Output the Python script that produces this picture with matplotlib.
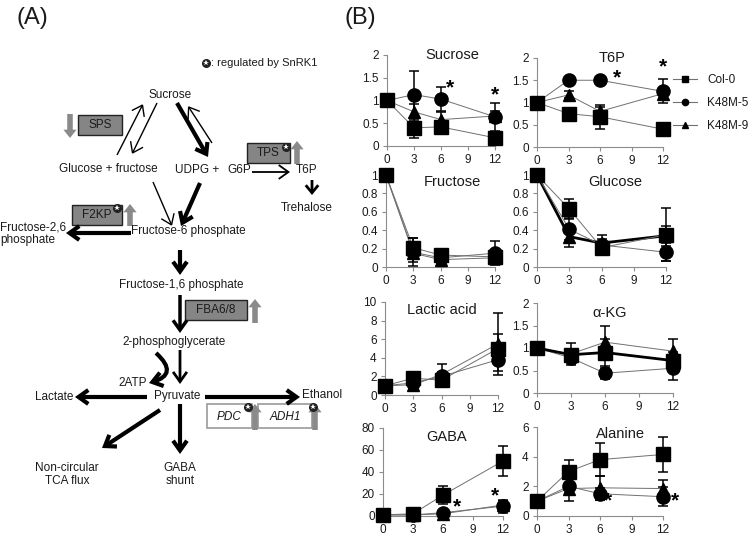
import numpy as np
import matplotlib.pyplot as plt
from matplotlib.patches import Rectangle, FancyArrowPatch
from matplotlib.lines import Line2D
from matplotlib.ticker import FuncFormatter

plt.rcParams['font.family'] = ['Liberation Sans', 'DejaVu Sans']

W, H = 755, 538

# ---- data (relative to 0 h), rows: Col-0, K48M-5, K48M-9 ----
hours = [0, 3, 6, 12]
genotypes = ['Col-0', 'K48M-5', 'K48M-9']

sucrose_mean = [[1, 0.40, 0.42, 0.18], [1, 1.13, 1.03, 0.64], [1, 0.75, 0.58, 0.66]]
sucrose_err = [[0, 0.22, 0.12, 0.05], [0, 0.52, 0.26, 0.30], [0, 0.18, 0.17, 0.12]]

t6p_mean = [[1, 0.75, 0.68, 0.40], [1, 1.50, 1.50, 1.25], [1, 1.17, 0.80, 1.20]]
t6p_err = [[0, 0.05, 0.27, 0.04], [0, 0.05, 0.05, 0.27], [0, 0.08, 0.10, 0.10]]

fructose_mean = [[1, 0.21, 0.13, 0.11], [1, 0.16, 0.10, 0.15], [1, 0.15, 0.08, 0.10]]
fructose_err = [[0, 0.11, 0.07, 0.05], [0, 0.15, 0.06, 0.13], [0, 0.10, 0.05, 0.05]]

glucose_mean = [[1, 0.63, 0.21, 0.35], [1, 0.41, 0.24, 0.16], [1, 0.33, 0.26, 0.34]]
glucose_err = [[0, 0.11, 0.05, 0.29], [0, 0.12, 0.06, 0.10], [0, 0.11, 0.09, 0.11]]

lactic_mean = [[1, 1.8, 1.6, 5.0], [1, 1.3, 2.0, 3.8], [1, 1.1, 2.2, 5.5]]
lactic_err = [[0, 0.4, 0.6, 1.6], [0, 0.3, 0.5, 1.2], [0, 0.3, 1.1, 3.3]]

akg_mean = [[1, 0.85, 0.90, 0.72], [1, 0.78, 0.44, 0.55], [1, 0.87, 1.13, 0.93]]
akg_err = [[0, 0.12, 0.30, 0.20], [0, 0.10, 0.12, 0.25], [0, 0.25, 0.35, 0.28]]

gaba_mean = [[1, 2, 19, 50], [1, 1, 3, 9], [1, 1, 2, 10]]
gaba_err = [[0, 1, 8, 14], [0, 0.5, 2, 6], [0, 0.5, 1, 4]]

alanine_mean = [[1, 3.0, 3.8, 4.15], [1, 2.0, 1.5, 1.3], [1, 1.85, 1.9, 1.85]]
alanine_err = [[0, 0.8, 1.1, 1.15], [0, 1.0, 0.4, 0.65], [0, 0.3, 0.8, 0.6]]

# significance marks (x, y)
sucrose_stars = [(7.0, 1.27), (12, 1.13)]
t6p_stars = [(7.6, 1.55), (12, 1.8)]
gaba_stars = [(7.4, 8.5), (11.2, 18.7)]
alanine_stars = [(6.8, 1.0), (13.1, 1.0)]

fig = plt.figure(figsize=(W / 100, H / 100), dpi=100)

# ---------------- panel A: pathway diagram (pixel coordinates) ----------------
ax0 = fig.add_axes([0, 0, 1, 1])
ax0.set_xlim(0, W)
ax0.set_ylim(H, 0)
ax0.axis('off')

TXT = '#1a1a1a'
GRAY = '#8a8a8a'


def label(x, y, s, size=8.5, ha='center', **kw):
    ax0.text(x, y, s, ha=ha, va='center', fontsize=size, color=TXT, **kw)


def arrow(x0, y0, x1, y1, lw=1.0, hl=0.7, hw=0.5, cs=None):
    a = FancyArrowPatch((x0, y0), (x1, y1),
                        arrowstyle=f'->,head_length={hl},head_width={hw}',
                        lw=lw, color='black', mutation_scale=10,
                        shrinkA=0, shrinkB=0, connectionstyle=cs,
                        joinstyle='miter', capstyle='butt')
    ax0.add_patch(a)


def gray_arrow(x, y0, y1):
    a = FancyArrowPatch((x, y0), (x, y1),
                        arrowstyle='simple,head_length=0.6,head_width=0.95,tail_width=0.4',
                        color=GRAY, lw=0, mutation_scale=10, shrinkA=0, shrinkB=0)
    ax0.add_patch(a)


def enzyme(x, y, w, h, s, filled=True):
    if filled:
        ax0.add_patch(Rectangle((x, y), w, h, facecolor='#858585', edgecolor='#222222', lw=1.0))
        label(x + w / 2, y + h / 2, s, size=8.5)
    else:
        ax0.add_patch(Rectangle((x, y), w, h, facecolor='white', edgecolor='#9a9a9a', lw=1.2))
        label(x + w / 2, y + h / 2 + 1, s, size=8.5, style='italic')


def snrk(x, y):
    ax0.plot([x], [y], 'o', ms=5.5, color='#222222', mec='#222222')
    ax0.plot([x], [y], '*', ms=4, color='white', mew=0)


label(32, 18, '(A)', size=17)
label(360, 18, '(B)', size=17)

snrk(206, 63)
label(211, 63, ': regulated by SnRK1', size=8, ha='left')

label(170, 95, 'Sucrose')
label(108, 169, 'Glucose + fructose')
label(175, 170, 'UDPG +', ha='left')
label(227, 170, 'G6P', ha='left')
label(307, 170, 'T6P')
label(307, 208, 'Trehalose')
label(0, 227, 'Fructose-2,6', ha='left')
label(0, 240, 'phosphate', ha='left')
label(188, 231, 'Fructose-6 phosphate')
label(181, 285, 'Fructose-1,6 phosphate')
label(174, 342, '2-phosphoglycerate')
label(133, 383, '2ATP')
label(177, 396, 'Pyruvate')
label(54, 397, 'Lactate')
label(302, 395, 'Ethanol', ha='left')
label(67, 468, 'Non-circular')
label(67, 481, 'TCA flux')
label(180, 468, 'GABA')
label(180, 481, 'shunt')

enzyme(78, 115, 44, 20, 'SPS')
enzyme(247, 143, 43, 20, 'TPS')
enzyme(72, 205, 50, 20, 'F2KP')
enzyme(185, 300, 62, 20, 'FBA6/8')
enzyme(207, 404, 45, 24, 'PDC', filled=False)
enzyme(258, 404, 54, 24, 'ADH1', filled=False)

gray_arrow(70, 114, 138)
gray_arrow(297, 164, 141)
gray_arrow(130, 226, 204)
gray_arrow(255, 323, 299)
gray_arrow(255, 430, 404)
gray_arrow(315, 430, 404)

snrk(286, 147)
snrk(117, 208)
snrk(248, 407)
snrk(313, 407)

# thin arrows
arrow(117, 155, 143, 104, lw=1.0)
arrow(157, 103, 132, 154, lw=1.0)
arrow(212, 143, 188, 106, lw=1.0)
arrow(153, 182, 172, 226, lw=1.0)
arrow(252, 172, 290, 172, lw=1.3)
arrow(312, 180, 312, 195, lw=2.0, hl=0.55, hw=0.45)
# thick arrows
arrow(177, 103, 208, 157, lw=3)
arrow(200, 183, 181, 226, lw=3)
arrow(131, 233, 66, 233, lw=3)
arrow(180, 250, 180, 275, lw=3)
arrow(180, 295, 180, 333, lw=2.5)
arrow(180, 350, 180, 384, lw=2)
arrow(156, 353, 149, 383, lw=3, cs='arc3,rad=-0.9')
arrow(147, 397, 75, 397, lw=3)
arrow(205, 397, 300, 397, lw=3)
arrow(160, 410, 102, 448, lw=3)
arrow(180, 404, 180, 454, lw=3)

# ---------------- panel B: time courses ----------------
def px_rect(x0, x12, ytop, y0):
    return [x0 / W, 1 - y0 / H, (x12 - x0) / W, (y0 - ytop) / H]


panels = [
    ('Sucrose', sucrose_mean, sucrose_err, [0, 0.5, 1, 1.5, 2], sucrose_stars, (387, 495, 55, 146), (452, 55)),
    ('T6P', t6p_mean, t6p_err, [0, 0.5, 1, 1.5, 2], t6p_stars, (537, 663, 58, 147), (612, 58)),
    ('Fructose', fructose_mean, fructose_err, [0, 0.2, 0.4, 0.6, 0.8, 1], [], (386, 495, 175, 267), (452, 182)),
    ('Glucose', glucose_mean, glucose_err, [0, 0.2, 0.4, 0.6, 0.8, 1], [], (537, 666, 175, 267), (615, 182)),
    ('Lactic acid', lactic_mean, lactic_err, [0, 2, 4, 6, 8, 10], [], (385, 498, 302, 395), (442, 310)),
    ('α-KG', akg_mean, akg_err, [0, 0.5, 1, 1.5, 2], [], (537, 673, 303, 393), (610, 313)),
    ('GABA', gaba_mean, gaba_err, [0, 20, 40, 60, 80], gaba_stars, (383, 503, 428, 516), (447, 437)),
    ('Alanine', alanine_mean, alanine_err, [0, 2, 4, 6], alanine_stars, (537, 663, 427, 516), (620, 434)),
]

markers = ['s', 'o', '^']
msizes = [9.5, 9.5, 9]
fmt = FuncFormatter(lambda v, p: f'{v:g}')

for name, mean, err, yt, stars, box, tpos in panels:
    ax = fig.add_axes(px_rect(*box))
    ax.patch.set_alpha(0)
    for k in [2, 1, 0]:
        lw, lc = 0.7, '#707070'
        if (name == 'Glucose' and k == 2) or (name == 'α-KG' and k == 0):
            lw, lc = 2.0, 'black'
        ax.plot(hours, mean[k], color=lc, lw=lw, zorder=2, clip_on=False)
        eb = ax.errorbar(hours, mean[k], yerr=err[k], fmt='none', ecolor='black',
                         elinewidth=1.1, capsize=3.5, capthick=1.1, zorder=3)
        for art in eb.get_children():
            art.set_clip_on(False)
        ax.plot(hours, mean[k], ls='none', marker=markers[k], ms=msizes[k],
                color='black', zorder=4 + (2 - k) * 0.1, clip_on=False)
    for sx, sy in stars:
        ax.text(sx, sy, '*', ha='center', va='center', fontsize=15, color='black',
                fontweight='bold', clip_on=False, zorder=6)
    ax.set_xlim(0, 12)
    ax.set_ylim(yt[0], yt[-1])
    ax.set_xticks([0, 3, 6, 9, 12])
    ax.set_yticks(yt)
    ax.xaxis.set_major_formatter(fmt)
    ax.yaxis.set_major_formatter(fmt)
    for s in ['top', 'right']:
        ax.spines[s].set_visible(False)
    for s in ['left', 'bottom']:
        ax.spines[s].set_color('#8c8c8c')
        ax.spines[s].set_linewidth(0.8)
    ax.tick_params(direction='out', length=3, width=0.8, color='#8c8c8c',
                   labelcolor=TXT, labelsize=8.5)
    ax.tick_params(axis='x', pad=3)
    ax.tick_params(axis='y', pad=3)
    fig.text(tpos[0] / W, 1 - tpos[1] / H, name, ha='center', va='center',
             fontsize=10.5, color=TXT)

# legend (beside T6P)
handles = [Line2D([], [], color='#707070', lw=0.8, marker=m, ms=4.5,
                  mfc='black', mec='black') for m in markers]
fig.legend(handles, genotypes, loc='upper left', bbox_to_anchor=(673 / W, 1 - 74 / H),
           frameon=False, fontsize=8.5, handlelength=2.0, handletextpad=0.9,
           labelspacing=0.95, borderpad=0, borderaxespad=0, labelcolor=TXT)

fig.savefig('out.png', dpi=100)
